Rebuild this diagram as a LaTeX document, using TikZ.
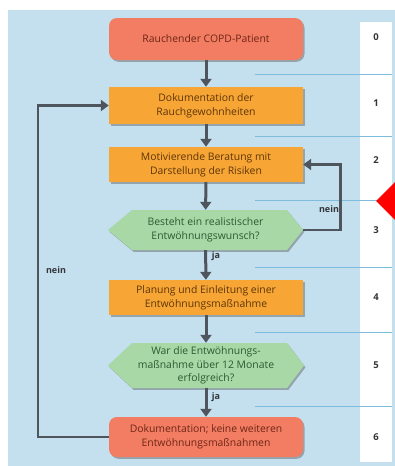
\documentclass[tikz,border=0pt]{standalone}
\usepackage{fontspec}
\setmainfont{Open Sans}
\usetikzlibrary{shadows,arrows.meta}
\definecolor{bgblue}{HTML}{C4E0EF}
\definecolor{sepblue}{HTML}{7DBCDC}
\definecolor{salmon}{HTML}{F27D62}
\definecolor{orangebox}{HTML}{F7A535}
\definecolor{greenbox}{HTML}{A8D8A6}
\definecolor{arrgray}{HTML}{4E555D}
\definecolor{salmontext}{HTML}{6E2618}
\definecolor{orangetext}{HTML}{5E3608}
\definecolor{greentext}{HTML}{2C5A33}
\definecolor{labeltext}{HTML}{333538}
\tikzset{
  boxfont/.style={font=\fontsize{10.4}{14}\selectfont},
  myshadow/.style={drop shadow={shadow xshift=1.5pt,shadow yshift=-1.8pt,opacity=0.4,fill=black!70}},
  roundbox/.style={boxfont, fill=salmon, text=salmontext, rounded corners=8pt, minimum width=194pt, align=center, inner sep=0pt, myshadow},
  orangestep/.style={boxfont, fill=orangebox, text=orangetext, minimum width=194pt, align=center, inner sep=0pt, myshadow},
  hexfill/.style={fill=greenbox, myshadow},
  hextext/.style={boxfont, text=greentext, minimum width=195pt, align=center, inner sep=0pt},
  arr/.style={draw=arrgray, line width=3pt, -{Triangle[length=8pt,width=11pt]}},
  looparr/.style={draw=arrgray, line width=2.6pt, -{Triangle[length=8pt,width=11pt]}},
  lbl/.style={font=\fontsize{9}{10}\selectfont\bfseries, text=labeltext, inner sep=0pt},
  num/.style={font=\fontsize{9.5}{10}\selectfont\bfseries, text=labeltext, inner sep=0pt},
  sep/.style={draw=sepblue, line width=0.8pt}
}
\begin{document}
\begin{tikzpicture}[x=1pt,y=-1pt]
\useasboundingbox (0,0) rectangle (395,466);
\fill[white] (0,0) rectangle (395,466);
\fill[bgblue] (8,10) rectangle (395,466);
\fill[white] (360,22) rectangle (392,462);
% separators
\foreach \yy in {74,136,200,267,332,406} \draw[sep] (255,\yy) -- (392,\yy);
% red marker
\fill[red] (376,201) -- (395,182) -- (395,220) -- cycle;
% step numbers
\node[num] (k0) at (376,37) {0};
\node[num] (k1) at (376,103) {1};
\node[num] (k2) at (376,160) {2};
\node[num] (k3) at (376,230) {3};
\node[num] (k4) at (376,297) {4};
\node[num] (k5) at (376,365) {5};
\node[num] (k6) at (376,437) {6};
% boxes
\node[roundbox, minimum height=42pt] (n0) at (206,39) {Rauchender COPD-Patient};
\node[orangestep, minimum height=37pt] (n1) at (206,105.5) {Dokumentation der\\Rauchgewohnheiten};
\node[orangestep, minimum height=35pt] (n2) at (206,164.5) {Motivierende Beratung mit\\Darstellung der Risiken};
\path[hexfill] (108,230) -- (132,210) -- (287,210) -- (303,230) -- (287,250) -- (132,250) -- cycle;
\node[hextext, minimum height=40pt] (n3) at (205.5,230) {Besteht ein realistischer\\Entwöhnungswunsch?};
\node[orangestep, minimum height=35pt] (n4) at (206,297.5) {Planung und Einleitung einer\\Entwöhnungsmaßnahme};
\path[hexfill] (108,365.5) -- (132,343) -- (287,343) -- (304,365.5) -- (287,388) -- (132,388) -- cycle;
\node[hextext, minimum height=45pt, font=\fontsize{10.4}{13.5}\selectfont] (n5) at (206,365.5) {War die Entwöhnungs-\\maßnahme über 12 Monate\\erfolgreich?};
\node[roundbox, minimum height=40pt] (n6) at (206,437) {Dokumentation; keine weiteren\\Entwöhnungsmaßnahmen};
% connectors
\draw[arr] (n0) -- (n1);
\draw[arr] (n1) -- (n2);
\draw[arr] (n2) -- (n3);
\draw[arr] (n3) -- (n4);
\draw[arr] (n4) -- (n5);
\draw[arr] (n5) -- (n6);
\draw[looparr] (n3.east) -- ++(37,0) |- (n2.east);
\draw[looparr] (n6.west) -- ++(-71,0) |- (n1.west);
% labels
\node[lbl] (ja1) at (216,256) {ja};
\node[lbl] (ja2) at (216,397) {ja};
\node[lbl] (nein1) at (329,209) {nein};
\node[lbl] (nein2) at (56,270) {nein};
\end{tikzpicture}
\end{document}
